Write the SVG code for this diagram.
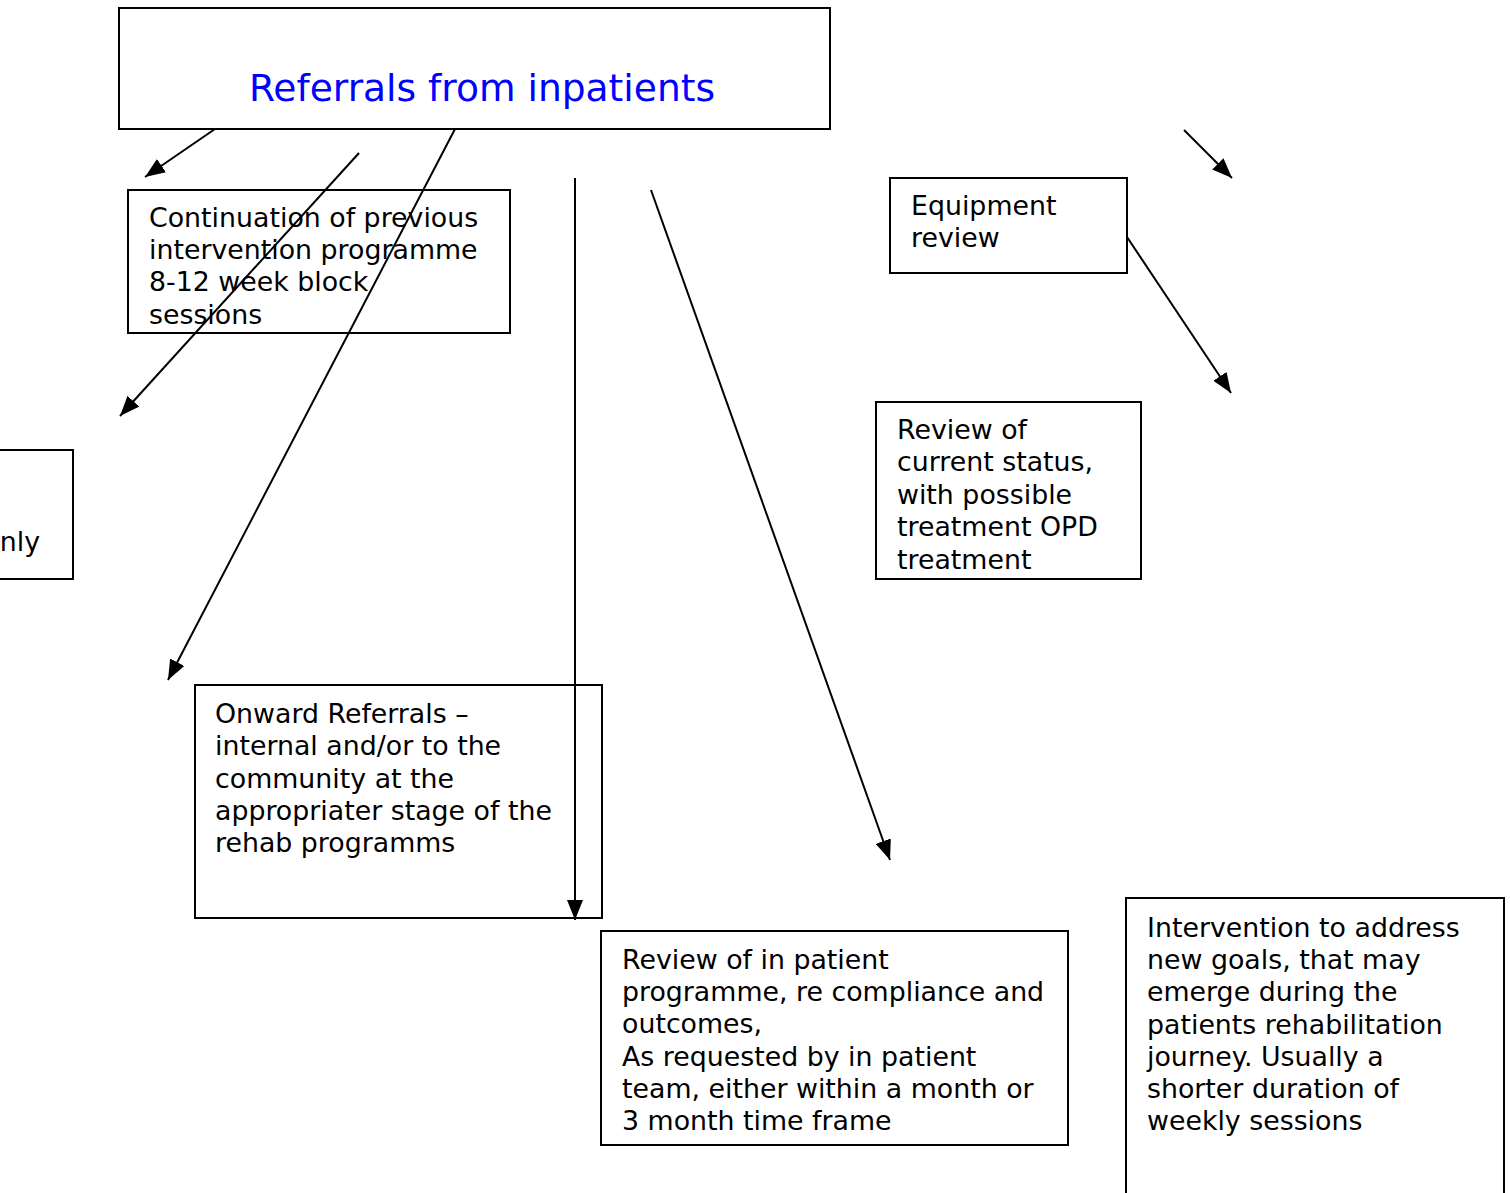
<svg xmlns="http://www.w3.org/2000/svg" width="1510" height="1193" viewBox="0 0 1510 1193">
<style>
.box{fill:#fff;stroke:#000;stroke-width:2}
.t{font-family:"DejaVu Sans","Verdana",sans-serif;font-size:26.8px;fill:#000}
.title{font-family:"DejaVu Sans","Verdana",sans-serif;font-size:37.6px;fill:#0000ff}
.c{stroke:#000;stroke-width:2;fill:none;marker-end:url(#ah)}
</style>
<defs>
<marker id="ah" markerUnits="userSpaceOnUse" markerWidth="22" markerHeight="16" refX="20" refY="8" orient="auto">
<path d="M0,0 L20,8 L0,16 Z" fill="#000"/>
</marker>
</defs>
<rect width="1510" height="1193" fill="#fff"/>
<g id="node-top"><rect class="box" x="119" y="8" width="711" height="121"/><text class="title" x="482" y="101" text-anchor="middle">Referrals from inpatients</text></g>
<g id="node-continuation"><rect class="box" x="128" y="190" width="382" height="143"/>
<text class="t" x="149" y="227">Continuation of previous</text>
<text class="t" x="149" y="259">intervention programme</text>
<text class="t" x="149" y="291">8-12 week block</text>
<text class="t" x="149" y="324">sessions</text></g>
<g id="node-left"><rect class="box" x="-10" y="450" width="83" height="129"/>
<text class="t" x="40" y="551" text-anchor="end">nly</text></g>
<g id="node-equipment"><rect class="box" x="890" y="178" width="237" height="95"/>
<text class="t" x="911" y="215">Equipment</text>
<text class="t" x="911" y="247">review</text></g>
<g id="node-review-status"><rect class="box" x="876" y="402" width="265" height="177"/>
<text class="t" x="897" y="439">Review of</text>
<text class="t" x="897" y="471">current status,</text>
<text class="t" x="897" y="504">with possible</text>
<text class="t" x="897" y="536">treatment OPD</text>
<text class="t" x="897" y="569">treatment</text></g>
<g id="node-onward"><rect class="box" x="195" y="685" width="407" height="233"/>
<text class="t" x="215" y="723">Onward Referrals –</text>
<text class="t" x="215" y="755">internal and/or to the</text>
<text class="t" x="215" y="788">community at the</text>
<text class="t" x="215" y="820">appropriater stage of the</text>
<text class="t" x="215" y="852">rehab programms</text></g>
<g id="node-review-inpatient"><rect class="box" x="601" y="931" width="467" height="214"/>
<text class="t" x="622" y="969">Review of in patient</text>
<text class="t" x="622" y="1001">programme, re compliance and</text>
<text class="t" x="622" y="1033">outcomes,</text>
<text class="t" x="622" y="1066">As requested by in patient</text>
<text class="t" x="622" y="1098">team, either within a month or</text>
<text class="t" x="622" y="1130">3 month time frame</text></g>
<g id="node-intervention"><rect class="box" x="1126" y="898" width="378" height="310"/>
<text class="t" x="1147" y="937">Intervention to address</text>
<text class="t" x="1147" y="969">new goals, that may</text>
<text class="t" x="1147" y="1001">emerge during the</text>
<text class="t" x="1147" y="1034">patients rehabilitation</text>
<text class="t" x="1147" y="1066">journey. Usually a</text>
<text class="t" x="1147" y="1098">shorter duration of</text>
<text class="t" x="1147" y="1130">weekly sessions</text></g>
<g id="connectors">
<line class="c" x1="215" y1="129" x2="145" y2="177"/>
<line class="c" x1="359" y1="153" x2="120" y2="416"/>
<line class="c" x1="455" y1="129" x2="168" y2="680"/>
<line class="c" x1="575" y1="178" x2="575" y2="920"/>
<line class="c" x1="651" y1="190" x2="890" y2="860"/>
<line class="c" x1="1184" y1="130" x2="1232" y2="178"/>
<line class="c" x1="1127" y1="237" x2="1231" y2="393"/>
</g>
</svg>
